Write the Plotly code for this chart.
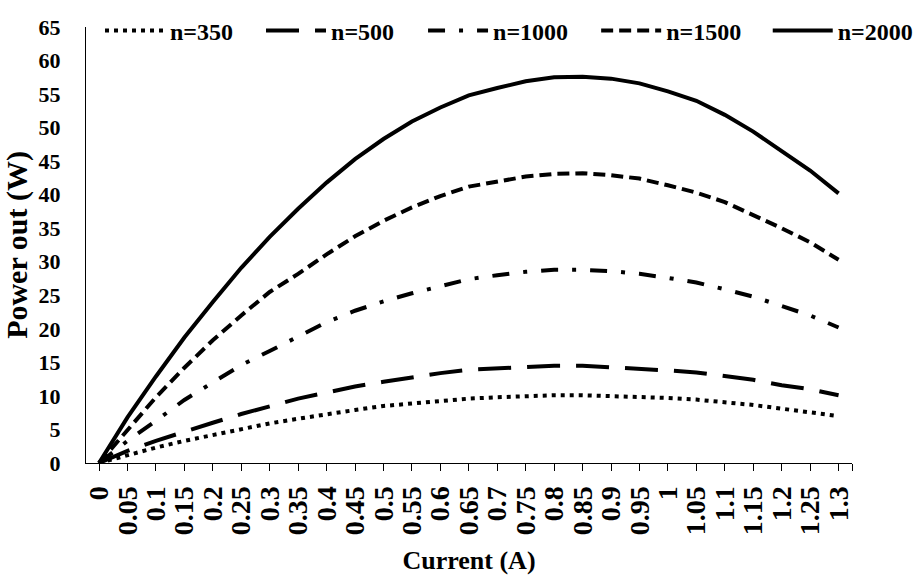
import plotly.graph_objects as go

current = [0, 0.05, 0.1, 0.15, 0.2, 0.25, 0.3, 0.35, 0.4, 0.45, 0.5, 0.55, 0.6, 0.65,
           0.7, 0.75, 0.8, 0.85, 0.9, 0.95, 1.0, 1.05, 1.1, 1.15, 1.2, 1.25, 1.3]
tick_labels = ["0", "0.05", "0.1", "0.15", "0.2", "0.25", "0.3", "0.35", "0.4", "0.45", "0.5",
               "0.55", "0.6", "0.65", "0.7", "0.75", "0.8", "0.85", "0.9", "0.95", "1", "1.05",
               "1.1", "1.15", "1.2", "1.25", "1.3"]

p_350 = [0, 1.2, 2.3, 3.3, 4.2, 5.1, 5.9, 6.6, 7.3, 7.9, 8.5, 8.9, 9.3, 9.6,
         9.8, 10.0, 10.1, 10.1, 10.0, 9.9, 9.7, 9.45, 9.1, 8.65, 8.1, 7.6, 7.0]
p_500 = [0, 1.8, 3.3, 4.7, 6.0, 7.3, 8.5, 9.6, 10.5, 11.4, 12.1, 12.8, 13.4, 13.9,
         14.1, 14.3, 14.5, 14.5, 14.3, 14.1, 13.8, 13.5, 13.0, 12.4, 11.6, 11.0, 10.1]
p_1000 = [0, 3.3, 6.3, 9.4, 12.0, 14.6, 16.7, 18.9, 21.0, 22.7, 24.1, 25.3, 26.4, 27.4,
          28.0, 28.5, 28.8, 28.8, 28.6, 28.2, 27.6, 26.9, 25.9, 24.8, 23.4, 22.0, 20.2]
p_1500 = [0, 5.0, 9.8, 14.2, 18.3, 22.0, 25.5, 28.2, 31.1, 33.8, 36.1, 38.1, 39.8, 41.2,
          41.9, 42.7, 43.1, 43.2, 42.9, 42.4, 41.4, 40.3, 38.9, 37.0, 35.0, 32.9, 30.3]
p_2000 = [0, 6.8, 12.9, 18.7, 24.0, 29.1, 33.7, 37.9, 41.8, 45.3, 48.3, 50.9, 53.0, 54.8,
          55.9, 56.9, 57.5, 57.6, 57.3, 56.6, 55.4, 54.0, 51.9, 49.4, 46.5, 43.6, 40.2]

series_names = ["n=350", "n=500", "n=1000", "n=1500", "n=2000"]
series_values = [p_350, p_500, p_1000, p_1500, p_2000]
series_dash = ["4px,5px", "33px,16px", "17px,14px,4px,14px", "12px,6px", "solid"]
legend_ids = ["legend", "legend2", "legend3", "legend4", "legend5"]
legend_x = [0.0183, 0.2285, 0.440, 0.666, 0.890]

FONT = "Liberation Serif"
fig = go.Figure()
for name, vals, dash, lid in zip(series_names, series_values, series_dash, legend_ids):
    fig.add_trace(go.Scatter(x=current, y=vals, mode="lines", name=name, legend=lid,
                             line=dict(color="black", width=4, dash=dash)))

legend_style = dict(orientation="h", y=0.991, xanchor="left", yanchor="middle",
                    font=dict(family=FONT, size=24, color="black", weight="bold"),
                    bgcolor="rgba(0,0,0,0)", itemwidth=60)

x_lo, x_hi = -0.0229, 1.3236
fig.update_layout(
    width=924, height=583,
    margin=dict(l=86, r=72, t=27, b=120, autoexpand=False),
    paper_bgcolor="white", plot_bgcolor="white",
    font=dict(family=FONT, color="black"),
    showlegend=True,
    xaxis=dict(
        range=[x_lo, x_hi], tickmode="array",
        tickvals=current + [x_hi], ticktext=tick_labels + [""],
        tickangle=-90, ticks="outside", ticklen=7, tickcolor="black", tickwidth=1,
        tickfont=dict(family=FONT, size=28, color="black", weight="bold"),
        showline=True, linecolor="black", linewidth=1, showgrid=False, zeroline=False,
        ticklabelstandoff=4,
        title=dict(text="Current (A)", font=dict(family=FONT, size=26, color="black", weight="bold"),
                   standoff=16),
    ),
    yaxis=dict(
        range=[0, 65], tickmode="array", tickvals=list(range(0, 70, 5)),
        ticks="", showline=True, linecolor="black", linewidth=1, showgrid=False, zeroline=False,
        tickfont=dict(family=FONT, size=22, color="black", weight="bold"),
        ticklabelstandoff=20,
        title=dict(text="Power out (W)", font=dict(family=FONT, size=30, color="black", weight="bold"),
                   standoff=12),
    ),
)
for lid, lx in zip(legend_ids, legend_x):
    fig.update_layout({lid: dict(legend_style, x=lx)})

fig.write_html("out.html")
